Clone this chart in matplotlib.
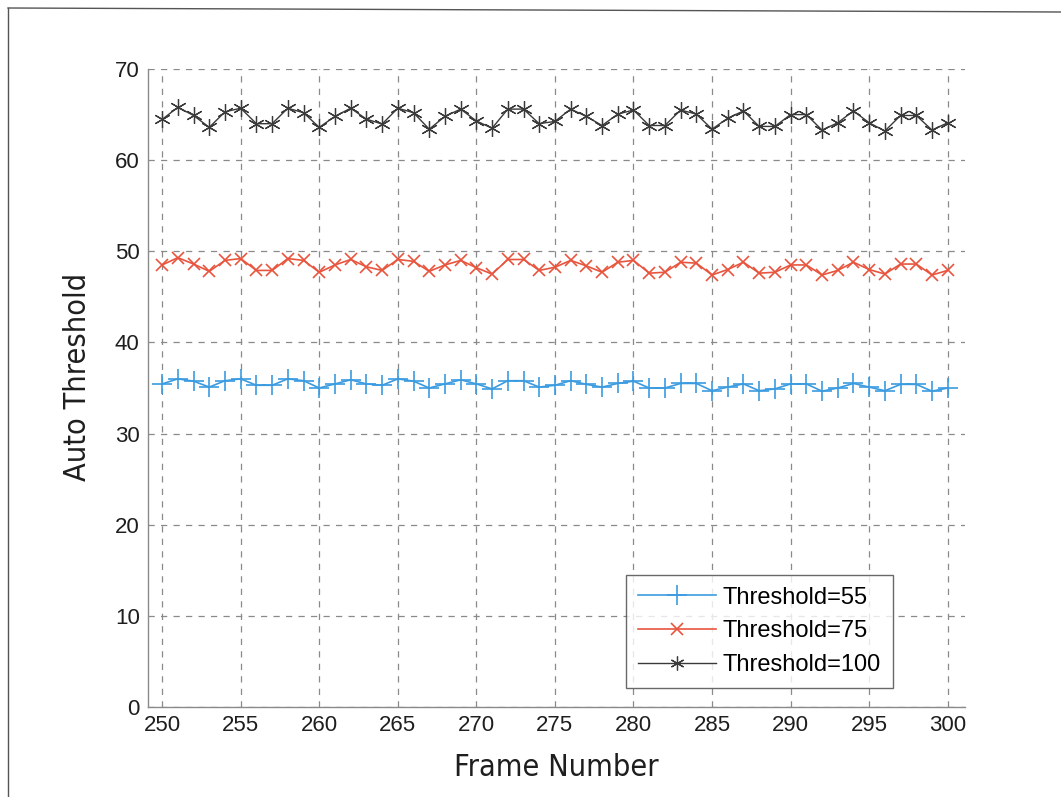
import matplotlib
matplotlib.use("Agg")
import matplotlib.pyplot as plt
from matplotlib.lines import Line2D

frames = list(range(250, 301))

thr55 = [35.45, 36.0, 35.75, 35.1, 35.8, 36.0, 35.3, 35.3, 36.0, 35.8,
         35.0, 35.45, 35.9, 35.45, 35.3, 36.0, 35.75, 35.0, 35.45, 35.9,
         35.45, 34.9, 35.8, 35.8, 35.1, 35.3, 35.8, 35.4, 35.1, 35.5,
         35.75, 35.0, 35.0, 35.5, 35.5, 34.7, 35.1, 35.45, 34.7, 34.9,
         35.45, 35.45, 34.65, 35.0, 35.5, 35.1, 34.7, 35.4, 35.4, 34.65,
         35.0]

thr75 = [48.5, 49.3, 48.6, 47.8, 49.0, 49.2, 47.9, 47.9, 49.2, 49.0,
         47.7, 48.5, 49.1, 48.3, 47.9, 49.1, 48.9, 47.8, 48.5, 49.0,
         48.2, 47.5, 49.1, 49.1, 47.9, 48.25, 49.0, 48.4, 47.7, 48.8,
         49.0, 47.6, 47.7, 48.8, 48.7, 47.4, 48.0, 48.8, 47.6, 47.7,
         48.5, 48.5, 47.4, 47.9, 48.8, 48.0, 47.5, 48.6, 48.6, 47.4,
         47.9]

thr100 = [64.47, 65.8, 64.9, 63.6, 65.3, 65.7, 64.0, 64.0, 65.7, 65.2,
          63.6, 64.8, 65.7, 64.5, 63.96, 65.7, 65.2, 63.4, 64.8, 65.6,
          64.3, 63.5, 65.6, 65.6, 64.0, 64.25, 65.6, 64.8, 63.8, 65.05,
          65.5, 63.8, 63.8, 65.5, 65.05, 63.4, 64.6, 65.4, 63.7, 63.7,
          65.0, 65.0, 63.3, 64.1, 65.4, 64.1, 63.2, 64.9, 64.9, 63.3,
          64.1]

labels = ["Threshold=55", "Threshold=75", "Threshold=100"]

fig = plt.figure(figsize=(10.61, 7.97), dpi=100)
ax = fig.add_axes([148/1061, 1 - 707/797, (965-148)/1061, (707-69)/797])

asterisk = (6, 2, 0)
ax.plot(frames, thr55, color="#3b9be0", lw=1.2, marker="+", ms=15, mew=1.2, label=labels[0])
ax.plot(frames, thr75, color="#e8553e", lw=1.2, marker="x", ms=9, mew=1.2, label=labels[1])
ax.plot(frames, thr100, color="#3a3a3a", lw=1.0, marker=asterisk, ms=12, mew=0.9, label=labels[2])

ax.set_xlim(249.1, 301.1)
ax.set_ylim(0, 70)
ax.set_xticks(range(250, 301, 5))
ax.set_yticks(range(0, 71, 10))
ax.grid(True, color="#8a8a8a", linestyle=(0, (5, 5)), linewidth=0.9)
for s in ["top", "right"]:
    ax.spines[s].set_visible(False)
for s in ["left", "bottom"]:
    ax.spines[s].set_color("#8a8a8a")
    ax.spines[s].set_linewidth(1.0)
ax.tick_params(length=0, labelsize=16, pad=6, labelcolor="#1e1e1e")
for t in ax.get_xticklabels() + ax.get_yticklabels():
    t.set_fontfamily("Liberation Sans")

lab_font = {"family": "DejaVu Sans", "stretch": "condensed", "size": 22, "color": "#1e1e1e"}
ax.set_xlabel("Frame Number", fontdict=lab_font, labelpad=12)
ax.set_ylabel("Auto Threshold", fontdict=lab_font, labelpad=16)
ax.yaxis.set_label_coords(-0.068, 0.517)

leg = ax.legend(loc="lower right", bbox_to_anchor=(893/1061, 1 - 688/797),
                bbox_transform=fig.transFigure, borderaxespad=0,
                prop={"family": "Liberation Sans", "size": 17},
                handlelength=3.3, handletextpad=0.3, frameon=True, fancybox=False,
                edgecolor="#444444", borderpad=0.5, labelspacing=0.5)
leg.get_frame().set_linewidth(1.0)
for h, ms in zip(leg.legend_handles, [14, 8, 10]):
    h.set_markersize(ms)

# scan border lines
fig.add_artist(Line2D([8/1061, 8/1061], [0, 1 - 8/797], transform=fig.transFigure,
                      color="#555555", lw=1.0))
fig.add_artist(Line2D([8/1061, 1], [1 - 8/797, 1 - 12/797], transform=fig.transFigure,
                      color="#555555", lw=1.0))

fig.savefig("out.png", dpi=100, facecolor="white")
